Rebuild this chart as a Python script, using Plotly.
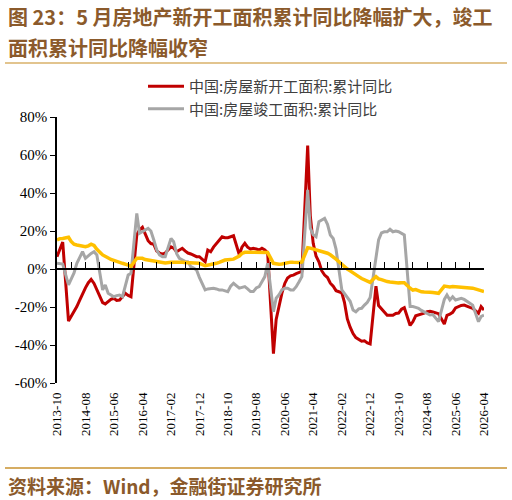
import plotly.graph_objects as go

# ---------------- data ----------------
new_dates = ["2013-10","2013-11","2013-12","2014-02","2014-03","2014-04","2014-05","2014-06","2014-07","2014-08",
 "2014-09","2014-10","2014-11","2014-12","2015-02","2015-03","2015-04","2015-05","2015-06","2015-07","2015-08",
 "2015-09","2015-10","2015-11","2015-12","2016-02","2016-03","2016-04","2016-05","2016-06","2016-07","2016-08",
 "2016-09","2016-10","2016-11","2016-12","2017-02","2017-03","2017-04","2017-05","2017-06","2017-07","2017-08",
 "2017-09","2017-10","2017-11","2017-12","2018-02","2018-03","2018-04","2018-05","2018-06","2018-07","2018-08",
 "2018-09","2018-10","2018-11","2018-12","2019-02","2019-03","2019-04","2019-05","2019-06","2019-07","2019-08",
 "2019-09","2019-10","2019-11","2019-12","2020-02","2020-03","2020-04","2020-05","2020-06","2020-07","2020-08",
 "2020-09","2020-10","2020-11","2020-12","2021-02","2021-03","2021-04","2021-05","2021-06","2021-07","2021-08",
 "2021-09","2021-10","2021-11","2021-12","2022-02","2022-03","2022-04","2022-05","2022-06","2022-07","2022-08",
 "2022-09","2022-10","2022-11","2022-12","2023-02","2023-03","2023-04","2023-05","2023-06","2023-07","2023-08",
 "2023-09","2023-10","2023-11","2023-12","2024-02","2024-03","2024-04","2024-05","2024-06","2024-07","2024-08",
 "2024-09","2024-10","2024-11","2024-12","2025-02","2025-03","2025-04","2025-05","2025-06","2025-07","2025-08",
 "2025-09","2025-10","2025-11","2025-12","2026-02","2026-03","2026-04"]
new_start_yoy = [6.5,10.0,14.2,-27.4,-25.2,-22.3,-19.8,-16.4,-13.0,-9.9,
 -7.2,-5.5,-7.6,-10.7,-17.7,-18.4,-17.0,-16.0,-15.4,-16.5,-16.3,
 -14.5,-12.8,-13.9,-14.6,18.0,20.5,21.9,17.9,14.9,13.4,13.0,
 9.5,8.4,7.8,8.4,11.7,11.0,9.1,9.9,10.9,9.5,8.4,
 7.9,7.4,6.5,6.5,3.8,10.0,9.1,11.5,13.5,15.0,17.0,
 16.5,16.5,17.0,17.5,7.5,11.5,13.5,11.5,10.5,10.9,10.5,
 10.0,10.9,10.0,8.5,-44.5,-26.5,-18.5,-12.8,-7.6,-4.7,-3.6,
 -3.2,-2.4,-1.8,-1.2,65.0,28.0,13.5,6.9,3.8,-0.9,-3.2,
 -4.5,-7.5,-9.1,-11.4,-12.5,-17.5,-26.3,-30.6,-34.0,-36.1,-37.0,
 -38.0,-37.8,-38.9,-39.4,-9.0,-19.2,-21.2,-22.6,-24.3,-24.5,-24.4,
 -23.4,-23.2,-21.2,-20.4,-29.7,-27.8,-24.6,-24.2,-23.7,-23.2,-22.5,
 -22.2,-22.6,-23.0,-23.5,-29.0,-24.4,-23.8,-22.8,-20.5,-19.8,-19.2,
 -19.0,-19.8,-20.2,-20.7,-23.3,-19.8,-21.6]

done_dates = new_dates
completed_yoy = [3.0,2.8,2.6,-8.4,-5.5,-2.1,3.0,6.5,9.1,5.6,
 7.0,8.2,9.1,7.4,-11.0,-8.4,-12.8,-13.5,-14.6,-14.0,-13.7,
 -14.6,-9.3,-3.2,-2.3,29.3,18.8,19.5,20.5,21.4,20.0,15.3,
 10.0,7.4,6.5,6.5,16.1,14.4,8.2,5.6,4.8,4.0,3.8,
 1.2,0.5,-0.5,-4.4,-11.0,-10.5,-10.1,-10.1,-10.5,-11.0,-11.0,
 -11.5,-11.9,-9.0,-7.5,-10.1,-9.8,-9.3,-10.5,-11.9,-11.9,-10.0,
 -9.3,-6.7,-4.0,3.0,-22.5,-15.4,-13.5,-11.0,-10.1,-10.1,-11.0,
 -11.0,-9.3,-6.7,-4.0,41.6,21.5,18.0,17.0,24.9,26.0,26.7,
 23.5,17.9,16.1,10.5,-11.0,-13.0,-14.6,-17.0,-21.6,-22.5,-21.0,
 -20.7,-19.0,-17.5,-15.0,5.0,15.3,19.0,19.6,19.6,20.9,19.6,
 20.0,19.6,18.8,17.9,-19.8,-19.8,-20.2,-20.7,-21.8,-22.5,-23.3,
 -24.2,-24.0,-26.0,-27.7,-16.0,-13.7,-16.3,-14.6,-16.3,-15.8,-15.4,
 -16.0,-17.2,-18.0,-19.0,-27.7,-25.0,-24.2]

constr_dates = new_dates
construction_yoy = [15.3,16.0,16.1,16.7,14.5,13.0,12.6,12.2,11.9,11.7,
 12.2,13.0,12.4,10.4,7.4,6.5,5.6,5.0,4.5,3.8,3.5,
 3.0,2.6,2.1,1.3,5.6,5.6,5.6,5.0,4.7,4.4,4.2,
 3.8,3.6,3.5,3.2,3.5,3.6,3.5,3.4,3.5,3.4,3.4,
 3.3,3.2,3.1,3.0,1.7,1.9,2.3,2.7,3.0,3.5,4.2,
 4.7,4.9,5.0,5.2,6.8,8.2,8.8,8.8,8.8,9.0,8.8,
 8.7,9.0,8.7,8.7,3.0,2.6,2.5,2.6,3.1,3.4,3.6,
 3.5,3.4,3.4,3.7,11.2,11.0,10.5,10.3,10.0,9.5,8.9,
 8.3,7.5,6.5,5.2,2.5,1.0,0.0,-1.0,-2.2,-2.8,-4.0,
 -5.0,-5.7,-6.5,-7.0,-4.0,-5.2,-5.6,-6.2,-6.6,-6.8,-7.1,
 -7.1,-7.3,-7.2,-7.2,-10.1,-11.1,-10.8,-11.6,-12.0,-12.1,-12.0,
 -12.2,-12.4,-12.7,-12.8,-9.0,-9.3,-9.4,-9.2,-9.3,-9.2,-9.4,
 -9.4,-9.6,-10.0,-10.1,-11.0,-11.4,-11.9]

series_names = ["中国:房屋新开工面积:累计同比", "中国:房屋竣工面积:累计同比", "中国:房屋施工面积:累计同比"]
y_ticks = [-60, -40, -20, 0, 20, 40, 60, 80]
title_line1 = "图 23：5 月房地产新开工面积累计同比降幅扩大，竣工"
title_line2 = "面积累计同比降幅收窄"
source_text = "资料来源：Wind，金融街证券研究所"

# ---------------- layout helpers ----------------
W, H = 512, 500
ML, MR, MT, MB = 57, 28, 117, 117
PW, PH = W - ML - MR, H - MT - MB
def px(x):
    return (x - ML) / PW
def py(y):
    return (H - MB - y) / PH

serif = "Liberation Serif, Times New Roman, serif"
cjk = "Noto Sans CJK SC"
brown = "#8B5A2B"

fig = go.Figure()
fig.add_trace(go.Scatter(x=[d + "-01" for d in new_dates], y=new_start_yoy, mode="lines",
                         name=series_names[0], line=dict(color="#C00000", width=3)))
fig.add_trace(go.Scatter(x=[d + "-01" for d in done_dates], y=completed_yoy, mode="lines",
                         name=series_names[1], line=dict(color="#A6A6A6", width=3)))
fig.add_trace(go.Scatter(x=[d + "-01" for d in constr_dates], y=construction_yoy, mode="lines",
                         name=series_names[2], showlegend=False, xaxis="x2",
                         line=dict(color="#FFC000", width=3.5)))

x_range = ["2013-10-01", "2026-04-01"]
fig.update_layout(
    width=W, height=H, margin=dict(l=ML, r=MR, t=MT, b=MB),
    paper_bgcolor="white", plot_bgcolor="white",
    xaxis=dict(type="date", range=x_range, tick0="2013-10-01", dtick="M10", tickformat="%Y-%m",
               tickangle=-90, showgrid=False, showline=False, ticks="", zeroline=False,
               ticklabelstandoff=6, tickfont=dict(family=serif, size=13, color="#000")),
    xaxis2=dict(type="date", matches="x", overlaying="x", anchor="free", position=60/140,
                side="bottom", showline=True, linecolor="#000", linewidth=1.5,
                ticks="inside", ticklen=6, tickwidth=1.2, tickcolor="#000",
                tick0="2013-10-01", dtick="M5", showticklabels=False, showgrid=False, zeroline=False),
    yaxis=dict(range=[-60, 80], tickvals=y_ticks, ticktext=[f"{v}%" for v in y_ticks],
               showgrid=False, zeroline=False, showline=True, linecolor="#000", linewidth=1.5,
               ticks="outside", ticklen=5, tickwidth=1.2, tickcolor="#000",
               tickfont=dict(family=serif, size=15, color="#000")),
    legend=dict(x=px(143), y=py(70), xanchor="left", yanchor="top", bgcolor="rgba(0,0,0,0)",
                font=dict(family=cjk, size=15, color="#404040"), tracegroupgap=0,
                itemwidth=36),
    showlegend=True,
)

fig.add_annotation(text=title_line1, xref="paper", yref="paper", x=px(6), y=py(17),
                   xanchor="left", yanchor="middle", showarrow=False,
                   font=dict(family=cjk, size=20, color=brown, weight="bold"))
fig.add_annotation(text=title_line2, xref="paper", yref="paper", x=px(6), y=py(47),
                   xanchor="left", yanchor="middle", showarrow=False,
                   font=dict(family=cjk, size=20, color=brown, weight="bold"))
fig.add_annotation(text=source_text, xref="paper", yref="paper", x=px(6), y=py(485),
                   xanchor="left", yanchor="middle", showarrow=False,
                   font=dict(family=cjk, size=19, color=brown, weight="bold"))

fig.add_shape(type="line", xref="paper", yref="paper", x0=px(5), x1=px(507), y0=py(63), y1=py(63),
              line=dict(color="#E2C48E", width=2))
fig.add_shape(type="line", xref="paper", yref="paper", x0=px(5), x1=px(507), y0=py(468), y1=py(468),
              line=dict(color="#C8922F", width=1.5))

fig.write_html("out.html")
